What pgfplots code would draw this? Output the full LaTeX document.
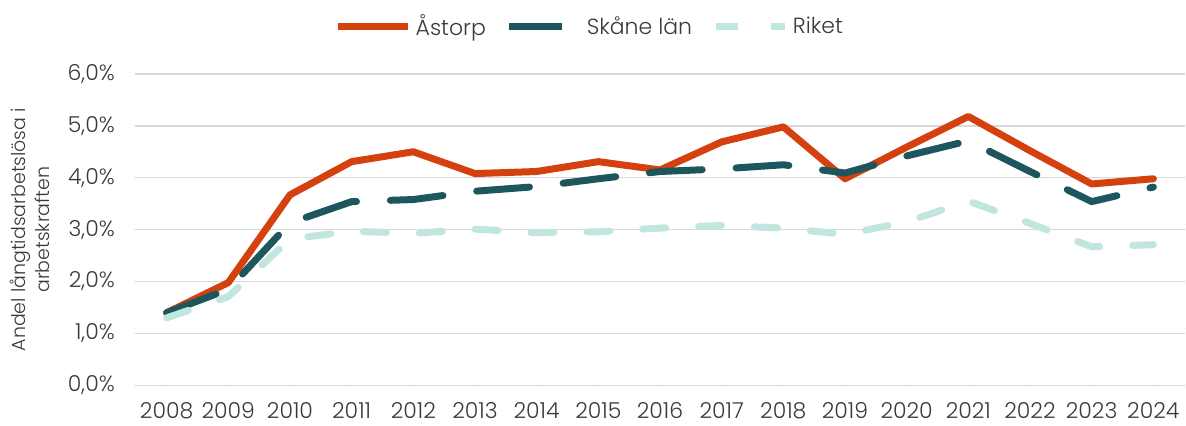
\documentclass[border=0pt]{standalone}
\usepackage{fontspec}
\setmainfont{Poppins Light}
\usepackage{pgfplots}
\pgfplotsset{compat=1.18}
\definecolor{astorp}{HTML}{D4410F}
\definecolor{skane}{HTML}{1E565E}
\definecolor{riket}{HTML}{C1E5DF}
\definecolor{txt}{HTML}{3A3A3A}
\definecolor{gridgray}{HTML}{D9D9D9}
\begin{document}
\begin{tikzpicture}
\begin{axis}[
  at={(0,0)}, anchor=south west,
  scale only axis, width=525pt, height=156pt,
  xmin=2007.5, xmax=2024.5, ymin=0, ymax=6,
  xtick={2008,...,2024}, ytick={0,1,2,3,4,5,6},
  yticklabels={{0,0\%},{1,0\%},{2,0\%},{3,0\%},{4,0\%},{5,0\%},{6,0\%}},
  /pgf/number format/assume math mode=true,
  /pgf/number format/1000 sep={},
  axis line style={draw=none},
  major tick length=0pt,
  xmajorgrids=false, ymajorgrids=true,
  major grid style={draw=gridgray, line width=0.75pt},
  tick label style={text=txt, font=\fontsize{11}{13}\selectfont},
  y tick label style={xshift=-7pt},
  x tick label style={yshift=-5pt},
  every axis y label/.style={at={(axis description cs:-0.101,0.5)}, rotate=90, anchor=center, align=center, text=txt, font=\fontsize{9.5}{12}\selectfont},
  ylabel={Andel långtidsarbetslösa i\\arbetskraften},
  legend style={at={(axis description cs:0.434,1.1506)}, anchor=center, draw=none, fill=none, legend columns=3, text=txt, font=\fontsize{11}{13}\selectfont,
    /tikz/every even column/.append style={column sep=8pt}},
  legend cell align=left,
  legend image code/.code={\draw[#1] (0pt,0pt) -- (35pt,0pt);},
  line cap=round, line join=round,
]
\addplot[color=astorp, line width=3.5pt] coordinates {
(2008,1.40) (2009,1.98) (2010,3.67) (2011,4.31) (2012,4.50) (2013,4.08) (2014,4.12) (2015,4.31) (2016,4.15) (2017,4.69) (2018,4.98) (2019,3.98) (2020,4.59) (2021,5.18) (2022,4.52) (2023,3.88) (2024,3.98)};
\addlegendentry{Åstorp}
\addplot[color=skane, line width=3.5pt, dash pattern=on 26.5pt off 17pt] coordinates {
(2008,1.40) (2009,1.85) (2010,3.13) (2011,3.54) (2012,3.58) (2013,3.74) (2014,3.83) (2015,3.98) (2016,4.12) (2017,4.17) (2018,4.25) (2019,4.09) (2020,4.42) (2021,4.71) (2022,4.12) (2023,3.54) (2024,3.82)};
\addlegendentry{Skåne län}
\addplot[color=riket, line width=3.5pt, dash pattern=on 11.5pt off 16.5pt] coordinates {
(2008,1.30) (2009,1.71) (2010,2.82) (2011,2.97) (2012,2.93) (2013,3.01) (2014,2.94) (2015,2.96) (2016,3.03) (2017,3.08) (2018,3.03) (2019,2.91) (2020,3.15) (2021,3.55) (2022,3.12) (2023,2.67) (2024,2.71)};
\addlegendentry{Riket}
\end{axis}
\path (-68pt,-19.5pt) rectangle (525pt,193pt);
\end{tikzpicture}
\end{document}
